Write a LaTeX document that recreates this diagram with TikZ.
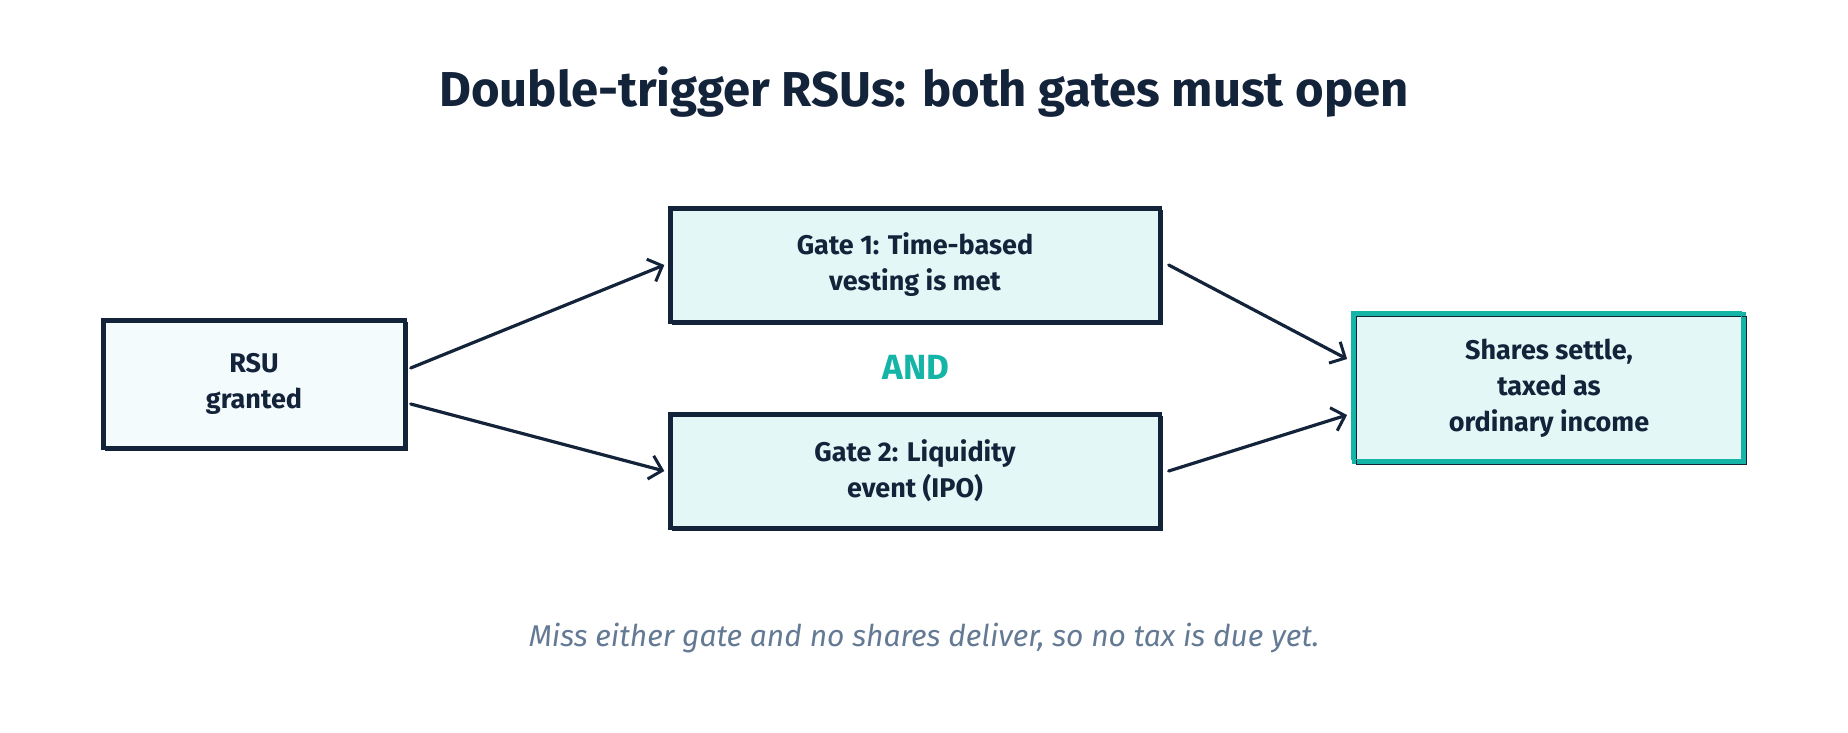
\documentclass[tikz,border=0pt]{standalone}
\usepackage{fontspec}
\setmainfont{Fira Sans}
\usetikzlibrary{arrows.meta,calc}
\definecolor{ink}{HTML}{13233A}
\definecolor{teal}{HTML}{14B5A7}
\definecolor{cyanfill}{HTML}{E4F7F7}
\definecolor{palefill}{HTML}{F4FBFD}
\definecolor{note}{HTML}{647A94}
\tikzset{
  box/.style={rectangle, draw=ink, line width=3.4pt, fill=cyanfill, inner sep=0pt,
    align=center, text=ink, font=\fontsize{27}{36}\selectfont\bfseries,
    postaction={draw=ink, line width=1.6pt, transform canvas={shift={(2.5pt,-2.5pt)}}}},
  startbox/.style={box, fill=palefill},
  endbox/.style={box, draw=teal, line width=3.8pt,
    postaction={draw=teal, line width=1.8pt, transform canvas={shift={(-2.5pt,2.5pt)}}}},
  conn/.style={draw=ink, line width=3.2pt, line cap=round,
    -{Straight Barb[length=12pt,width=24pt,line width=3pt]}},
}
\begin{document}
\begin{tikzpicture}[x=1pt,y=-1pt]
\useasboundingbox[fill=white] (0,0) rectangle (1848,732);
\node[text=ink, font=\fontsize{49}{54}\selectfont\bfseries] (title) at (924,92) {Double-trigger RSUs: both gates must open};
\node[startbox, minimum width=302pt, minimum height=128pt] (rsu) at (254,384) {RSU\\granted};
\node[box, minimum width=490pt, minimum height=114pt] (g1) at (915,265) {Gate 1: Time-based\\vesting is met};
\node[box, minimum width=490pt, minimum height=114pt] (g2) at (915,471) {Gate 2: Liquidity\\event (IPO)};
\node[endbox, minimum width=390pt, minimum height=148pt] (sh) at (1549,388) {Shares settle,\\taxed as\\ordinary income};
\node[text=teal, font=\fontsize{35}{38}\selectfont\bfseries] (and) at (916,367) {AND};
\node[text=note, font=\fontsize{30}{34}\selectfont\itshape] (foot) at (924,638) {Miss either gate and no shares deliver, so no tax is due yet.};
\draw[conn] ($(rsu.east)+(4,-16)$) -- ($(g1.west)+(-4,0)$);
\draw[conn] ($(rsu.east)+(4,20)$) -- ($(g2.west)+(-4,0)$);
\draw[conn] ($(g1.east)+(7,0)$) -- ($(sh.west)+(-5,-29)$);
\draw[conn] ($(g2.east)+(7,0)$) -- ($(sh.west)+(-5,27)$);
\end{tikzpicture}
\end{document}
